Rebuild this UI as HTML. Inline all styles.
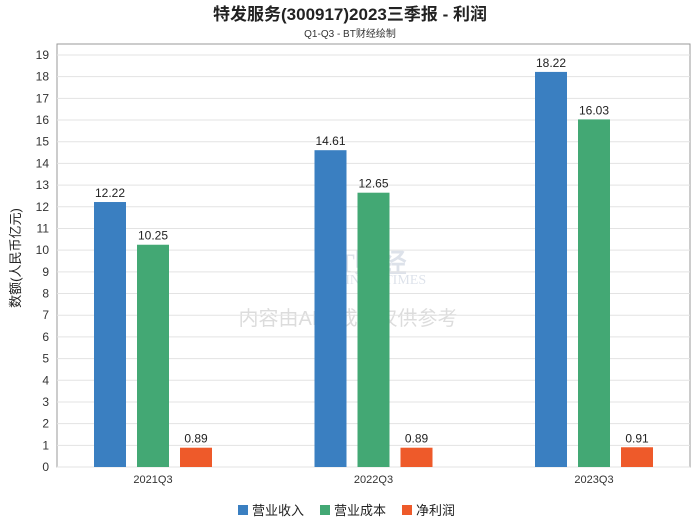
<!DOCTYPE html>
<html><head><meta charset="utf-8"><style>
body{margin:0;background:#fff;font-family:"Liberation Sans","Noto Sans CJK SC",sans-serif}
</style></head><body>
<svg id="c" width="700" height="524" xmlns="http://www.w3.org/2000/svg" style="font-family:'Liberation Sans','Noto Sans CJK SC',sans-serif">
<text x="350" y="20" text-anchor="middle" font-size="17" font-weight="bold" fill="#222">特发服务(300917)2023三季报 - 利润</text>
<text x="350" y="37" text-anchor="middle" font-size="10" fill="#333">Q1-Q3 - BT财经绘制</text>
<text transform="translate(20,258) rotate(-90)" text-anchor="middle" font-size="13" fill="#222">数额(人民币亿元)</text>
<g opacity="0.25">
<text x="320" y="272" font-size="26" font-weight="bold" fill="#7a8fb0" font-family="'Liberation Serif',serif">BT财经</text>
<text x="318" y="284" font-size="14" fill="#7a8fb0" font-family="'Liberation Serif',serif">BUSINESSTIMES</text>
<text x="348" y="325" text-anchor="middle" font-size="20" fill="#777">内容由AI生成，仅供参考</text>
</g>
<g id="grid"></g><g id="bars"></g>
<g font-size="13" fill="#222">
<rect x="238" y="505" width="10" height="10" fill="#3a7fc1"/><text x="252" y="515">营业收入</text>
<rect x="320" y="505" width="10" height="10" fill="#43a874"/><text x="334" y="515">营业成本</text>
<rect x="402" y="505" width="10" height="10" fill="#ee5a2a"/><text x="416" y="515">净利润</text>
</g>
</svg>
<script>
const categories=["2021Q3","2022Q3","2023Q3"];
const revenue=[12.22,14.61,18.22];
const cost=[10.25,12.65,16.03];
const profit=[0.89,0.89,0.91];
const yTicks=[0,1,2,3,4,5,6,7,8,9,10,11,12,13,14,15,16,17,18,19];
const ns="http://www.w3.org/2000/svg";
const L=57,R=690,T=44,B=467;
const y=v=>B-v*(B-55)/19;
const gx=i=>153+220.5*i;
function mk(t,a,p){const e=document.createElementNS(ns,t);for(const k in a)e.setAttribute(k,a[k]);p.appendChild(e);return e;}
const g=document.getElementById('grid'),b=document.getElementById('bars');
const frame=mk('rect',{x:L,y:T,width:R-L,height:B-T,fill:'none',stroke:'#999'},g);


yTicks.forEach(v=>{
 const l=mk('line',{x1:L,x2:R,y1:y(v),y2:y(v),stroke:'#e3e3e3'},g);
 
 
 const t=mk('text',{x:L-8,y:y(v)+4,'text-anchor':'end','font-size':12,fill:'#333'},g);t.textContent=v;
 
 
});
const series=[[revenue,'#3a7fc1','revenue'],[cost,'#43a874','cost'],[profit,'#ee5a2a','profit']];
categories.forEach((c,i)=>{
 const t=mk('text',{x:gx(i),y:B+16,'text-anchor':'middle','font-size':11,fill:'#333'},g);t.textContent=c;
 
 
 series.forEach((s,j)=>{
  const cx=gx(i)+(j-1)*43, w=32, v=s[0][i];
  const r=mk('rect',{x:cx-w/2,y:y(v),width:w,height:B-y(v),fill:s[1]},b);
  
  
  const lt=mk('text',{x:cx,y:y(v)-5,'text-anchor':'middle','font-size':12,fill:'#222'},b);lt.textContent=v.toFixed(2);
  
  
 });
});
</script>
</body></html>
